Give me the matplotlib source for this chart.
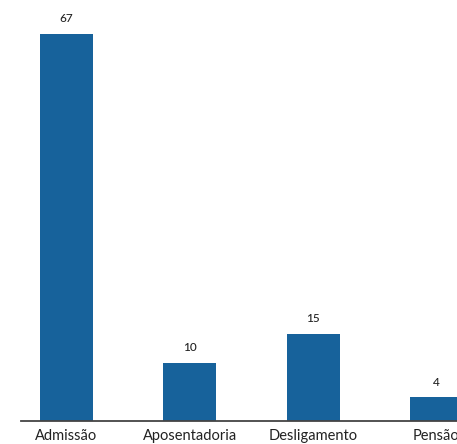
import matplotlib
matplotlib.use("Agg")
import matplotlib.pyplot as plt
import numpy as np

categorias = ["Admissão", "Aposentadoria", "Desligamento", "Pensão"]
valores = [67, 10, 15, 4]

plt.rcParams['font.family'] = ['Lato', 'DejaVu Sans']

fig = plt.figure(figsize=(4.57, 4.44), dpi=100)
ax = fig.add_axes([21/457, 23.5/444, 1 - 21/457, 1 - 23.5/444])

x = np.arange(len(categorias))
barras = ax.bar(x, valores, width=0.43, color='#17629b')

for b, v in zip(barras, valores):
    ax.annotate(str(v), (b.get_x() + b.get_width()/2, v), xytext=(0, 7),
                textcoords='offset points', ha='center', va='bottom',
                fontsize=8.5, color='#222222', fontweight='medium')

ax.set_xlim(-0.369, 3.167)
ax.set_ylim(0, 72.9)
ax.set_xticks(x)
ax.set_xticklabels(categorias, fontsize=10.5, color='#222222')
ax.tick_params(axis='x', length=0, pad=6)
ax.set_yticks([])
for s in ['top', 'right', 'left']:
    ax.spines[s].set_visible(False)
ax.spines['bottom'].set_color('#444444')
ax.spines['bottom'].set_linewidth(1.3)

fig.savefig('out.png', dpi=100)
